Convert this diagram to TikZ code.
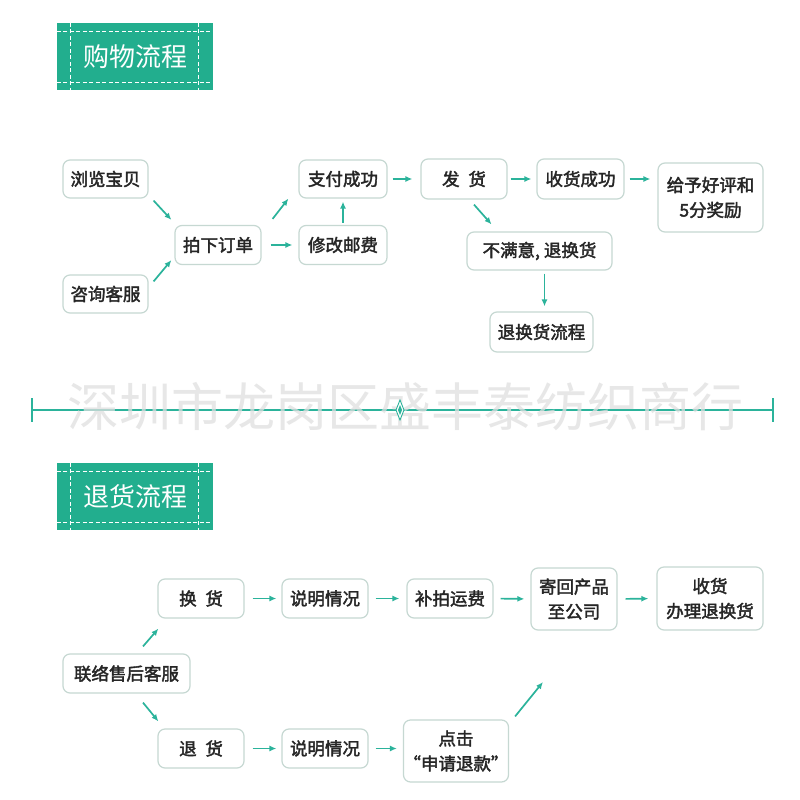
\documentclass[tikz,border=0pt]{standalone}
\usepackage{fontspec}
\setmainfont{Noto Sans CJK SC}
\newfontfamily\cjkb[FakeBold=2.2]{Noto Sans CJK SC}
\usetikzlibrary{arrows.meta,calc}
\definecolor{teal1}{HTML}{22AE8E}
\definecolor{arrc}{HTML}{2BB39B}
\definecolor{bord}{HTML}{C6D8D2}
\begin{document}
\begin{tikzpicture}[x=1pt,y=-1pt,
  box/.style={draw=bord, line width=1.2pt, rounded corners=7pt, fill=white,
    minimum width=86pt, minimum height=39pt, inner sep=0pt, align=center,
    text=black!85, font={\cjkb\fontsize{17.5}{25}\selectfont}},
  arr/.style={draw=arrc, line width=1.7pt, -{Latex[length=7pt,width=6pt]}},
  hdr/.style={fill=teal1, minimum width=156pt, minimum height=67pt, inner sep=0pt,
    text=white, font={\fontsize{26}{30}\selectfont}},
  hdash/.style={draw=white, line width=0.9pt, dash pattern=on 4pt off 2.5pt}]
\useasboundingbox (0,0) rectangle (800,800);
\fill[white] (0,0) rectangle (800,800);

% ---------- header 1
\node[hdr] (h1) at (135,56.5) {购物流程};
\draw[hdash] ($(h1.north west)+(0,9)$) -- ($(h1.north east)+(0,9)$);
\draw[hdash] ($(h1.south west)+(0,-8)$) -- ($(h1.south east)+(0,-8)$);
\draw[hdash] ($(h1.north west)+(14,0)$) -- ($(h1.south west)+(14,0)$);
\draw[hdash] ($(h1.north east)+(-15,0)$) -- ($(h1.south east)+(-15,0)$);

% ---------- shopping flow
\node[box, minimum width=85pt, minimum height=38pt] (liulan) at (105.5,179) {浏览宝贝};
\node[box, minimum width=85pt, minimum height=38pt] (zixun) at (105.5,294) {咨询客服};
\node[box] (paixia) at (218,245) {拍下订单};
\node[box, minimum width=88pt, minimum height=38pt] (zhifu) at (343,179) {支付成功};
\node[box, minimum width=88pt] (xiugai) at (343,245) {修改邮费};
\node[box, minimum height=40pt] (fahuo) at (464,179) {发\hspace{0.5em}货};
\node[box, minimum width=87pt, minimum height=40pt] (shouhuo) at (580.5,179) {收货成功};
\node[box, minimum width=105pt, minimum height=69pt] (geiyu) at (710.5,197.5) {给予好评和\\5分奖励};
\node[box, minimum width=145pt, minimum height=38pt] (bumanyi) at (539.5,251) {不满意, 退换货};
\node[box, minimum width=103pt, minimum height=40pt] (tuihuan) at (541.5,332) {退换货流程};

\draw[arr] ($(liulan.south east)+(5,2)$) -- ($(paixia.north west)+(-3,-5)$);
\draw[arr] ($(zixun.north east)+(5,7)$) -- ($(paixia.south west)+(-3,-5)$);
\draw[arr] ($(paixia.north east)+(11,-6)$) -- ($(zhifu.south west)+(-10,0)$);
\draw[arr, shorten <=9pt, shorten >=6pt] (paixia.east) -- (xiugai.west);
\draw[arr, shorten <=2pt, shorten >=3pt] (xiugai.north) -- (zhifu.south);
\draw[arr, shorten <=5pt, shorten >=8pt] (zhifu.east) -- (fahuo.west);
\draw[arr, shorten <=3pt, shorten >=5pt] (fahuo.east) -- (shouhuo.west);
\draw[arr, shorten <=5pt, shorten >=7pt] (shouhuo.east) -- (shouhuo.east -| geiyu.west);
\draw[arr] ($(fahuo.south)+(10,5)$) -- ($(bumanyi.north)+(-48,-7)$);
\draw[arr, shorten <=3pt, shorten >=5pt] ([xshift=5pt]bumanyi.south) -- ([xshift=3pt]tuihuan.north);

% ---------- divider
\draw[arrc, line width=1.4pt] (32,410) -- (773,410);
\draw[arrc, line width=1.2pt] (32,398) -- (32,422);
\draw[arrc, line width=1.2pt] (773,398) -- (773,422);
\node[font={\fontsize{52}{52}\selectfont}, text=gray!25, text opacity=0.75, inner sep=0pt] (wm) at (405,407) {深圳市龙岗区盛丰泰纺织商行};
\draw[arrc, line width=0.9pt, fill=white] (400,400) -- (404,410) -- (400,420) -- (396,410) -- cycle;
\fill[arrc] (400,405) -- (402,410) -- (400,415) -- (398,410) -- cycle;

% ---------- header 2
\node[hdr] (h2) at (135,496.5) {退货流程};
\draw[hdash] ($(h2.north west)+(0,9)$) -- ($(h2.north east)+(0,9)$);
\draw[hdash] ($(h2.south west)+(0,-8)$) -- ($(h2.south east)+(0,-8)$);
\draw[hdash] ($(h2.north west)+(14,0)$) -- ($(h2.south west)+(14,0)$);
\draw[hdash] ($(h2.north east)+(-15,0)$) -- ($(h2.south east)+(-15,0)$);

% ---------- return flow
\node[box] (huanhuo) at (201,598.5) {换\hspace{0.5em}货};
\node[box] (shuo1) at (325,598.5) {说明情况};
\node[box] (bupai) at (450,598.5) {补拍运费};
\node[box, minimum height=62pt] (jihui) at (574,599) {寄回产品\\至公司};
\node[box, minimum width=106pt, minimum height=63pt] (shouhuo2) at (710,598.5) {收货\\办理退换货};
\node[box, minimum width=127pt] (lianluo) at (126.5,673.5) {联络售后客服};
\node[box] (tuihuo) at (201,748.5) {退\hspace{0.5em}货};
\node[box] (shuo2) at (325,748.5) {说明情况};
\node[box, minimum width=100pt, minimum height=62pt] (dianji) at (456,751) {点击\\“申请退款”};
\coordinate (free) at (543,682);

\draw[arr] ($(lianluo.north)+(16.5,-7)$) -- ($(huanhuo.south west)+(1,10)$);
\draw[arr] ($(lianluo.south)+(16.5,9)$) -- ($(tuihuo.north west)+(1,-7)$);
\draw[arr, shorten <=8pt, shorten >=5pt] (huanhuo.east) -- (shuo1.west);
\draw[arr, shorten <=7pt, shorten >=7pt] (shuo1.east) -- (bupai.west);
\draw[arr, shorten <=7pt, shorten >=6pt] (bupai.east) -- (jihui.west);
\draw[arr, shorten <=8pt, shorten >=8pt] (jihui.east) -- (shouhuo2.west);
\draw[arr, shorten <=8pt, shorten >=5pt] (tuihuo.east) -- (shuo2.west);
\draw[arr, shorten <=7pt, shorten >=6pt] (shuo2.east) -- (dianji.west |- shuo2.east);
\draw[arr] ($(dianji.north east)+(6,-3)$) -- (free);
\end{tikzpicture}
\end{document}
